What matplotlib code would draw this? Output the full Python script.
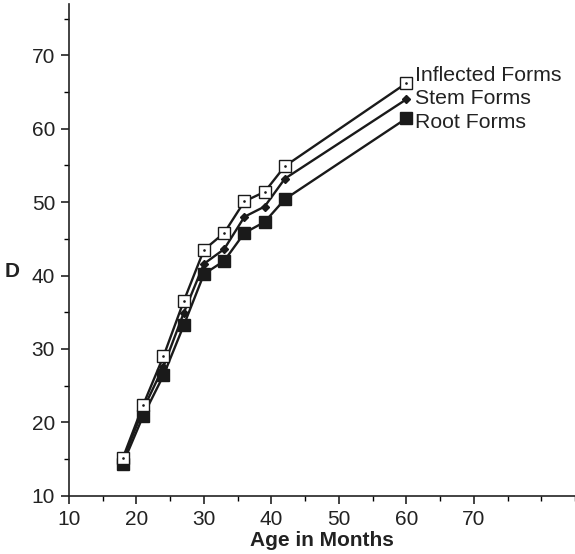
import numpy as np
import matplotlib.pyplot as plt
from matplotlib.ticker import MultipleLocator

plt.rcParams['font.family'] = ['Liberation Sans', 'DejaVu Sans']

age = [18, 21, 24, 27, 30, 33, 36, 39, 42, 60]
inflected = [15.2, 22.4, 29.0, 36.5, 43.5, 45.8, 50.1, 51.4, 54.9, 66.2]
stem = [14.9, 21.8, 27.6, 34.9, 41.6, 43.6, 48.0, 49.4, 53.2, 64.0]
root = [14.4, 20.9, 26.4, 33.2, 40.2, 42.0, 45.8, 47.3, 50.4, 61.4]
labels = ['Inflected Forms', 'Stem Forms', 'Root Forms']

fig = plt.figure(figsize=(5.75, 5.54), dpi=100)
ax = fig.add_axes([0.12, 0.105, 0.88, 0.888])

ax.plot(age, root, color='#1a1a1a', lw=1.7, marker='s', ms=8,
        mfc='#1a1a1a', mec='#1a1a1a', zorder=3)
ax.plot(age, stem, color='#1a1a1a', lw=1.7, marker='D', ms=4.5,
        mfc='#1a1a1a', mec='#1a1a1a', zorder=4)
ax.plot(age, inflected, color='#1a1a1a', lw=1.7, marker='s', ms=8.5,
        mfc='white', mec='#1a1a1a', mew=1.0, zorder=5)
ax.plot(age, inflected, ls='none', marker='.', ms=1.8, color='#1a1a1a', zorder=6)

ends = [inflected[-1], stem[-1], root[-1]]
offs = [1.1, 0.1, -0.5]
for lab, yv, o in zip(labels, ends, offs):
    ax.text(61.3, yv + o, lab, fontsize=15.3, color='#222222', va='center', ha='left')

ax.set_xlim(10, 85)
ax.set_ylim(10, 77)
ax.set_xticks([10, 20, 30, 40, 50, 60, 70])
ax.set_yticks([10, 20, 30, 40, 50, 60, 70])
ax.xaxis.set_minor_locator(MultipleLocator(5))
ax.yaxis.set_minor_locator(MultipleLocator(5))
ax.tick_params(which='major', length=6, width=1.2, labelsize=15, colors='#222222', pad=4)
ax.tick_params(which='minor', length=3.5, width=1.0)
for s in ['top', 'right']:
    ax.spines[s].set_visible(False)
for s in ['left', 'bottom']:
    ax.spines[s].set_linewidth(1.2)
    ax.spines[s].set_color('#222222')

ax.set_xlabel('Age in Months', fontsize=15, fontweight='bold', color='#222222')
ax.xaxis.set_label_coords(0.5, -0.072)
ax.set_ylabel('D', fontsize=15, fontweight='bold', color='#222222', rotation=0, va='center', ha='center')
ax.yaxis.set_label_coords(-0.112, 0.455)

plt.savefig('out.png')
